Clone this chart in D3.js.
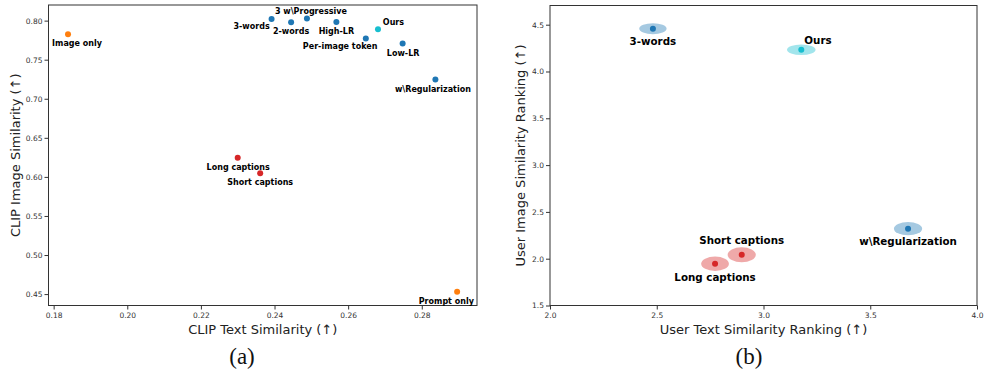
<!DOCTYPE html>
<html>
<head>
<meta charset="utf-8">
<script src="https://cdn.jsdelivr.net/npm/d3@7"></script>
<style>
  body { margin: 0; background: #fff; }
  svg text { font-family: "DejaVu Sans", sans-serif; }
  .tick text { font-size: 7.5px; fill: #333; }
  .tick line { stroke: #333; }
  .domain { stroke: none; }
  .axis-text { font-size: 13px; fill: #222; }
  .pt-label { font-weight: bold; fill: #000; }
  .panel-tag { font-family: "Liberation Serif", "Times New Roman", serif !important; font-size: 23px; fill: #111; }
</style>
</head>
<body>
<div id="chart"></div>
<script>
// (a) CLIP similarity
var clipLabels = ["Image only", "3-words", "2-words", "3 w\\Progressive", "High-LR", "Ours",
  "Per-image token", "Low-LR", "w\\Regularization", "Long captions", "Short captions", "Prompt only"];
var clipText = [0.1839, 0.2392, 0.2445, 0.2488, 0.2568, 0.2681, 0.2648, 0.2748, 0.2837, 0.2300, 0.2361, 0.2896];
var clipImage = [0.7826, 0.8022, 0.7980, 0.8026, 0.7983, 0.7890, 0.7770, 0.7706, 0.7245, 0.6244, 0.6048, 0.4529];
var clipGroup = ["single", "variant", "variant", "variant", "variant", "ours",
  "variant", "variant", "variant", "caption", "caption", "single"];
var clipXTicks = [0.18, 0.20, 0.22, 0.24, 0.26, 0.28];
var clipYTicks = [0.45, 0.50, 0.55, 0.60, 0.65, 0.70, 0.75, 0.80];

// (b) user study
var userLabels = ["3-words", "Ours", "w\\Regularization", "Short captions", "Long captions"];
var userText = [2.482, 3.177, 3.677, 2.898, 2.773];
var userImage = [4.457, 4.232, 2.321, 2.043, 1.946];
var userTextErr = [0.064, 0.067, 0.066, 0.066, 0.065];
var userImageErr = [0.059, 0.057, 0.071, 0.080, 0.077];
var userGroup = ["variant", "ours", "variant", "caption", "caption"];
var userXTicks = [2.0, 2.5, 3.0, 3.5, 4.0];
var userYTicks = [1.5, 2.0, 2.5, 3.0, 3.5, 4.0, 4.5];

var color = d3.scaleOrdinal()
  .domain(["variant", "single", "caption", "ours"])
  .range(["#1f77b4", "#ff7f0e", "#d62728", "#17becf"]);

// label nudges in px, by label
var clipNudge = {
  "Image only": [9, 9.4], "3-words": [-20, 7.7], "2-words": [0, 9.7], "3 w\\Progressive": [4, -6.7],
  "High-LR": [0, 10], "Ours": [15.5, -6.3], "Per-image token": [-25.7, 8], "Low-LR": [0.5, 10.3],
  "w\\Regularization": [-2.5, 9.6], "Long captions": [0.5, 9.3], "Short captions": [0, 9.4], "Prompt only": [-10.8, 9.3]
};
var userNudge = {
  "3-words": [0, 12.7], "Ours": [16.7, -9.3], "w\\Regularization": [0, 12.3],
  "Short captions": [0, -14.7], "Long captions": [0, 13]
};

var svg = d3.select("#chart")
  .append("svg")
  .attr("width", 984)
  .attr("height", 375);

function makePanel(box, xDomain, yDomain, xTicks, yTicks, fmt) {
  var x = d3.scaleLinear().domain(xDomain).range([box.left, box.right]);
  var y = d3.scaleLinear().domain(yDomain).range([box.bottom, box.top]);

  svg.append("g")
    .attr("transform", `translate(0, ${box.bottom})`)
    .call(d3.axisBottom(x).tickValues(xTicks).tickFormat(d3.format(fmt)).tickSize(4).tickPadding(3));

  svg.append("g")
    .attr("transform", `translate(${box.left}, 0)`)
    .call(d3.axisLeft(y).tickValues(yTicks).tickFormat(d3.format(fmt)).tickSize(4).tickPadding(2));

  svg.append("rect")
    .attr("x", box.left)
    .attr("y", box.top)
    .attr("width", box.right - box.left)
    .attr("height", box.bottom - box.top)
    .attr("fill", "none")
    .attr("stroke", "#333")
    .attr("stroke-width", 1);

  return {x: x, y: y};
}

// ---- panel (a)
var boxA = {left: 48.5, right: 477, top: 5, bottom: 305.5};
var a = makePanel(boxA, [0.1786, 0.295], [0.4354, 0.820], clipXTicks, clipYTicks, ".2f");

var clipData = clipLabels.map(function(l, i) {
  return {label: l, tx: clipText[i], im: clipImage[i], group: clipGroup[i]};
});

svg.append("g").selectAll("circle")
  .data(clipData)
  .enter()
  .append("circle")
  .attr("cx", d => a.x(d.tx))
  .attr("cy", d => a.y(d.im))
  .attr("r", 3)
  .attr("fill", d => color(d.group));

svg.append("g").selectAll("text")
  .data(clipData)
  .enter()
  .append("text")
  .classed("pt-label", true)
  .attr("x", d => a.x(d.tx) + clipNudge[d.label][0])
  .attr("y", d => a.y(d.im) + clipNudge[d.label][1])
  .attr("text-anchor", "middle")
  .attr("dominant-baseline", "central")
  .style("font-size", "8px")
  .text(d => d.label);

svg.append("text")
  .classed("axis-text", true)
  .attr("x", (boxA.left + boxA.right) / 2)
  .attr("y", 329)
  .attr("text-anchor", "middle")
  .attr("dominant-baseline", "central")
  .text("CLIP Text Similarity (\u2191)");

svg.append("text")
  .classed("axis-text", true)
  .attr("transform", `translate(15, ${(boxA.top + boxA.bottom) / 2}) rotate(-90)`)
  .attr("text-anchor", "middle")
  .attr("dominant-baseline", "central")
  .text("CLIP Image Similarity (\u2191)");

svg.append("text")
  .classed("panel-tag", true)
  .attr("x", 242)
  .attr("y", 356)
  .attr("text-anchor", "middle")
  .attr("dominant-baseline", "central")
  .text("(a)");

// ---- panel (b)
var boxB = {left: 550, right: 977, top: 5.5, bottom: 305.5};
var b = makePanel(boxB, [2.0, 4.0], [1.5, 4.705], userXTicks, userYTicks, ".1f");

var userData = userLabels.map(function(l, i) {
  return {label: l, tx: userText[i], im: userImage[i], ex: userTextErr[i], ey: userImageErr[i], group: userGroup[i]};
});

svg.append("g").selectAll("ellipse")
  .data(userData)
  .enter()
  .append("ellipse")
  .attr("cx", d => b.x(d.tx))
  .attr("cy", d => b.y(d.im))
  .attr("rx", d => b.x(d.tx + d.ex) - b.x(d.tx))
  .attr("ry", d => b.y(d.im) - b.y(d.im + d.ey))
  .attr("fill", d => color(d.group))
  .attr("opacity", 0.4);

svg.append("g").selectAll("circle")
  .data(userData)
  .enter()
  .append("circle")
  .attr("cx", d => b.x(d.tx))
  .attr("cy", d => b.y(d.im))
  .attr("r", 3)
  .attr("fill", d => color(d.group));

svg.append("g").selectAll("text")
  .data(userData)
  .enter()
  .append("text")
  .classed("pt-label", true)
  .attr("x", d => b.x(d.tx) + userNudge[d.label][0])
  .attr("y", d => b.y(d.im) + userNudge[d.label][1])
  .attr("text-anchor", "middle")
  .attr("dominant-baseline", "central")
  .style("font-size", "10.3px")
  .text(d => d.label);

svg.append("text")
  .classed("axis-text", true)
  .attr("x", (boxB.left + boxB.right) / 2)
  .attr("y", 329)
  .attr("text-anchor", "middle")
  .attr("dominant-baseline", "central")
  .text("User Text Similarity Ranking (\u2191)");

svg.append("text")
  .classed("axis-text", true)
  .attr("transform", `translate(520, ${(boxB.top + boxB.bottom) / 2}) rotate(-90)`)
  .attr("text-anchor", "middle")
  .attr("dominant-baseline", "central")
  .text("User Image Similarity Ranking (\u2191)");

svg.append("text")
  .classed("panel-tag", true)
  .attr("x", 749)
  .attr("y", 356)
  .attr("text-anchor", "middle")
  .attr("dominant-baseline", "central")
  .text("(b)");
</script>
</body>
</html>
